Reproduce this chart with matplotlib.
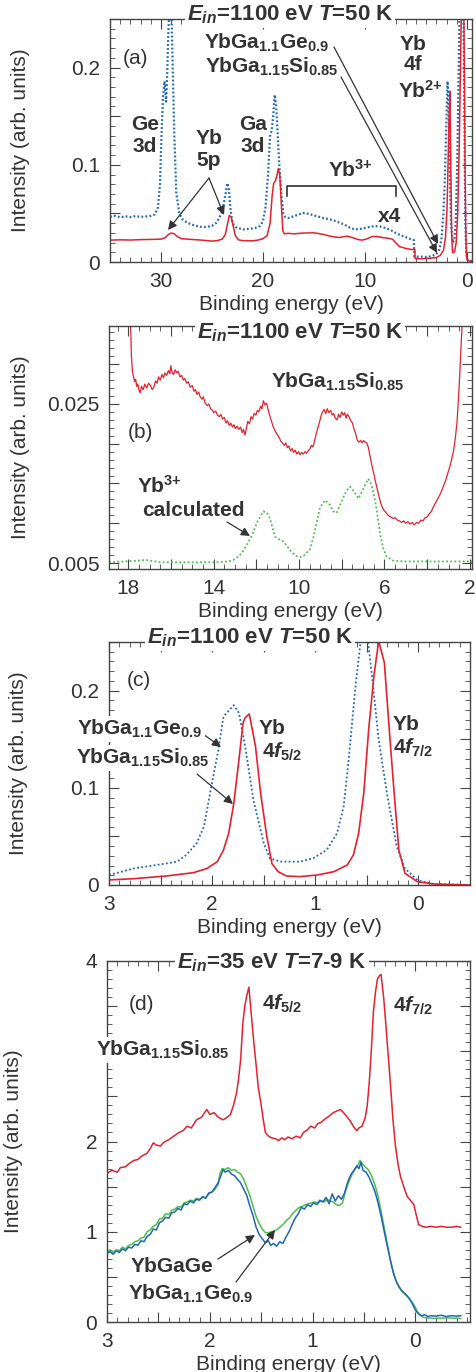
import matplotlib
matplotlib.use("Agg")
import matplotlib.pyplot as plt
from matplotlib.patches import FancyArrowPatch
from matplotlib.ticker import FixedLocator, FixedFormatter, MultipleLocator

# ---------------- data ----------------
# panel (a): YbGa1.15Si0.85 (red) and YbGa1.1Ge0.9 (blue), x4 above ~5 eV
a_red_E = [35.0, 34.0, 33.0, 32.0, 31.0, 30.0, 29.6, 29.3, 29.0, 28.7, 28.4, 28.0, 27.0, 26.0, 25.0,
           24.5, 24.0, 23.7, 23.5, 23.3, 23.1, 22.9, 22.7, 22.4, 22.0, 21.0, 20.5, 20.0, 19.6, 19.3,
           19.1, 18.95, 18.8, 18.65, 18.5, 18.35, 18.2, 18.05, 17.9, 17.5, 17.0, 16.0, 15.0, 14.5,
           14.0, 13.5, 13.0, 12.5, 12.0, 11.7, 11.2, 10.7, 10.3, 9.8, 9.3, 8.8, 8.3, 7.8, 7.3, 7.0,
           6.6, 6.0, 5.4, 5.1, 5.08, 4.5, 4.0, 3.5, 3.0, 2.6, 2.3, 2.1, 1.95, 1.85, 1.75, 1.67,
           1.6, 1.5, 1.42, 1.35, 1.2, 1.05, 0.9, 0.75, 0.6, 0.5, 0.4, 0.32, 0.25, 0.18, 0.12,
           0.06, 0.0, -0.2, -0.5]
a_red_I = [0.0225, 0.0228, 0.0226, 0.0230, 0.0232, 0.0235, 0.0250, 0.0280, 0.0298, 0.0290, 0.0262,
           0.0240, 0.0232, 0.0225, 0.0215, 0.0220, 0.0235, 0.0280, 0.0380, 0.0480, 0.0460, 0.0360,
           0.0270, 0.0228, 0.0220, 0.0218, 0.0225, 0.0240, 0.0270, 0.0400, 0.0680, 0.0810, 0.0830,
           0.0880, 0.0960, 0.0900, 0.0600, 0.0320, 0.0290, 0.0295, 0.0290, 0.0298, 0.0300, 0.0292,
           0.0282, 0.0268, 0.0258, 0.0252, 0.0262, 0.0265, 0.0250, 0.0232, 0.0225, 0.0238, 0.0262,
           0.0262, 0.0252, 0.0245, 0.0235, 0.0200, 0.0158, 0.0140, 0.0128, 0.0128, 0.0035, 0.0033,
           0.0036, 0.0040, 0.0045, 0.0070, 0.0120, 0.0250, 0.0550, 0.1000, 0.1500, 0.1756, 0.1200,
           0.0300, 0.0110, 0.0092, 0.0110, 0.0200, 0.0500, 0.1200, 0.2200, 0.2900, 0.3000, 0.2800,
           0.2000, 0.1000, 0.0400, 0.0100, 0.0030, 0.0010, 0.0008]

a_blue_E = [35.0, 34.5, 34.0, 33.5, 33.0, 32.5, 32.0, 31.5, 31.0, 30.6, 30.3, 30.1, 29.95, 29.8,
            29.65, 29.5, 29.4, 29.3, 29.15, 29.0, 28.85, 28.7, 28.5, 28.2, 27.9, 27.5, 27.0, 26.5,
            26.0, 25.5, 25.0, 24.6, 24.3, 24.0, 23.7, 23.5, 23.35, 23.2, 23.0, 22.7, 22.3, 21.9,
            21.5, 21.0, 20.6, 20.3, 20.0, 19.75, 19.5, 19.3, 19.15, 19.0, 18.85, 18.7, 18.55, 18.4,
            18.2, 18.0, 17.8, 17.5, 17.0, 16.5, 16.0, 15.5, 15.0, 14.5, 14.0, 13.5, 13.0, 12.5,
            12.0, 11.5, 11.0, 10.5, 10.0, 9.5, 9.0, 8.5, 8.0, 7.5, 7.0, 6.5, 6.0, 5.5, 5.2, 5.15,
            4.5, 4.0, 3.5, 3.0, 2.7, 2.5, 2.3, 2.15, 2.0, 1.9, 1.82, 1.7, 1.55, 1.4, 1.25, 1.1,
            0.95, 0.8, 0.7, 0.5, 0.35, 0.25, 0.15, 0.05, -0.1, -0.5]
a_blue_I = [0.0465, 0.0475, 0.0460, 0.0470, 0.0462, 0.0472, 0.0465, 0.0468, 0.0475, 0.0490, 0.0560,
            0.0800, 0.1300, 0.1700, 0.1860, 0.1650, 0.1900, 0.2300, 0.2700, 0.2700, 0.2000, 0.1330,
            0.0710, 0.0500, 0.0440, 0.0410, 0.0385, 0.0370, 0.0360, 0.0362, 0.0372, 0.0400, 0.0450,
            0.0520, 0.0680, 0.0810, 0.0760, 0.0560, 0.0400, 0.0360, 0.0345, 0.0335, 0.0340, 0.0345,
            0.0355, 0.0370, 0.0420, 0.0560, 0.0900, 0.1300, 0.1350, 0.1500, 0.1720, 0.1600, 0.1300,
            0.1000, 0.0700, 0.0500, 0.0460, 0.0452, 0.0470, 0.0490, 0.0505, 0.0495, 0.0480, 0.0465,
            0.0450, 0.0440, 0.0425, 0.0405, 0.0385, 0.0355, 0.0335, 0.0340, 0.0350, 0.0362, 0.0370,
            0.0365, 0.0350, 0.0330, 0.0300, 0.0275, 0.0255, 0.0235, 0.0225, 0.0055, 0.0055, 0.0052,
            0.0058, 0.0080, 0.0130, 0.0230, 0.0500, 0.0900, 0.1500, 0.1860, 0.1700, 0.1000, 0.0400,
            0.0200, 0.0220, 0.0400, 0.1000, 0.2000, 0.2700, 0.3000, 0.2700, 0.1500, 0.0400, 0.0080,
            0.0015, 0.0010]

# panel (b): YbGa1.15Si0.85 measured (red) and Yb3+ calculated (green)
b_red_E = [17.9, 17.85, 17.8, 17.75, 17.7, 17.65, 17.6, 17.55, 17.5, 17.44, 17.38, 17.3, 17.22,
           17.13, 17.05, 16.95, 16.88, 16.8, 16.72, 16.65, 16.58, 16.5, 16.42, 16.35, 16.28, 16.2,
           16.12, 16.05, 16.0, 15.95, 15.88, 15.8, 15.72, 15.65, 15.58, 15.5, 15.42, 15.35, 15.26,
           15.18, 15.1, 15.0, 14.92, 14.85, 14.78, 14.7, 14.63, 14.55, 14.48, 14.4, 14.3, 14.22,
           14.15, 14.05, 14.0, 13.9, 13.82, 13.74, 13.66, 13.58, 13.5, 13.42, 13.35, 13.27, 13.2,
           13.12, 13.05, 12.98, 12.9, 12.82, 12.74, 12.66, 12.6, 12.53, 12.46, 12.4, 12.32, 12.25,
           12.18, 12.1, 12.02, 11.95, 11.88, 11.8, 11.74, 11.67, 11.6, 11.52, 11.45, 11.38, 11.3,
           11.22, 11.15, 11.08, 11.0, 10.92, 10.85, 10.78, 10.7, 10.62, 10.55, 10.48, 10.4, 10.32,
           10.25, 10.18, 10.1, 10.02, 9.95, 9.88, 9.8, 9.72, 9.65, 9.58, 9.5, 9.42, 9.35, 9.28,
           9.2, 9.12, 9.05, 8.98, 8.9, 8.82, 8.75, 8.68, 8.6, 8.52, 8.45, 8.38, 8.3, 8.22, 8.15,
           8.08, 8.0, 7.93, 7.86, 7.8, 7.74, 7.66, 7.58, 7.5, 7.42, 7.35, 7.28, 7.2, 7.12, 7.05,
           6.98, 6.9, 6.83, 6.76, 6.7, 6.62, 6.55, 6.48, 6.4, 6.32, 6.25, 6.18, 6.1, 6.02, 5.94,
           5.86, 5.78, 5.7, 5.6, 5.5, 5.4, 5.3, 5.2, 5.1, 5.0, 4.9, 4.8, 4.7, 4.6, 4.5, 4.4, 4.3,
           4.2, 4.1, 4.0, 3.9, 3.8, 3.72, 3.62, 3.52, 3.42, 3.32, 3.22, 3.12, 3.02, 2.92, 2.84,
           2.76, 2.68, 2.6, 2.53, 2.46, 2.4, 2.34]
b_red_I = [0.0360, 0.0310, 0.0290, 0.0284, 0.0278, 0.0281, 0.0272, 0.0275, 0.0268, 0.0264, 0.0272,
           0.0268, 0.0275, 0.0270, 0.0276, 0.0273, 0.0268, 0.0271, 0.0279, 0.0276, 0.0284, 0.0280,
           0.0287, 0.0283, 0.0289, 0.0286, 0.0292, 0.0288, 0.0298, 0.0290, 0.0287, 0.0293, 0.0289,
           0.0291, 0.0284, 0.0286, 0.0280, 0.0282, 0.0276, 0.0278, 0.0271, 0.0273, 0.0266, 0.0268,
           0.0262, 0.0265, 0.0259, 0.0256, 0.0259, 0.0251, 0.0248, 0.0250, 0.0244, 0.0242, 0.0239,
           0.0241, 0.0236, 0.0234, 0.0237, 0.0231, 0.0233, 0.0226, 0.0229, 0.0223, 0.0226, 0.0221,
           0.0224, 0.0219, 0.0222, 0.0218, 0.0221, 0.0214, 0.0218, 0.0211, 0.0220, 0.0228, 0.0225,
           0.0234, 0.0231, 0.0238, 0.0236, 0.0242, 0.0240, 0.0247, 0.0244, 0.0254, 0.0249, 0.0251,
           0.0243, 0.0236, 0.0229, 0.0222, 0.0218, 0.0214, 0.0211, 0.0207, 0.0203, 0.0201, 0.0198,
           0.0201, 0.0195, 0.0197, 0.0191, 0.0194, 0.0189, 0.0192, 0.0187, 0.0190, 0.0186, 0.0189,
           0.0187, 0.0190, 0.0188, 0.0191, 0.0193, 0.0198, 0.0196, 0.0203, 0.0212, 0.0220, 0.0226,
           0.0234, 0.0240, 0.0243, 0.0238, 0.0244, 0.0239, 0.0242, 0.0236, 0.0238, 0.0232, 0.0230,
           0.0237, 0.0233, 0.0240, 0.0236, 0.0239, 0.0232, 0.0237, 0.0234, 0.0229, 0.0226, 0.0218,
           0.0213, 0.0205, 0.0202, 0.0204, 0.0201, 0.0204, 0.0202, 0.0201, 0.0196, 0.0188, 0.0178,
           0.0168, 0.0160, 0.0150, 0.0141, 0.0133, 0.0126, 0.0120, 0.0116, 0.0114, 0.0111, 0.0109,
           0.0108, 0.0106, 0.0107, 0.0104, 0.0103, 0.0101, 0.0103, 0.0100, 0.0102, 0.0099, 0.0101,
           0.0098, 0.0101, 0.0100, 0.0104, 0.0103, 0.0107, 0.0108, 0.0112, 0.0115, 0.0120, 0.0125,
           0.0130, 0.0135, 0.0141, 0.0148, 0.0155, 0.0164, 0.0173, 0.0182, 0.0192, 0.0207, 0.0228,
           0.0258, 0.0295, 0.0330, 0.0360]
b_calc_E = [18.9, 17.5, 17.2, 16.5, 15.0, 14.0, 13.3, 13.07, 12.8, 12.6, 12.4, 12.2, 11.95, 11.67,
            11.5, 11.36, 11.2, 11.12, 10.95, 10.73, 10.55, 10.42, 10.2, 9.98, 9.75, 9.49, 9.3, 9.1,
            9.02, 8.78, 8.55, 8.4, 8.24, 8.0, 7.8, 7.61, 7.4, 7.22, 7.0, 6.76, 6.6, 6.44, 6.3, 6.21,
            6.05, 5.9, 5.59, 5.0, 4.0, 3.0, 1.9]
b_calc_I = [0.0051, 0.0053, 0.0054, 0.0051, 0.0051, 0.0051, 0.0052, 0.0054, 0.0059, 0.0066, 0.0075,
            0.0085, 0.0102, 0.0115, 0.0113, 0.0106, 0.0090, 0.0083, 0.0080, 0.0077, 0.0071, 0.0066,
            0.0060, 0.0057, 0.0060, 0.0067, 0.0085, 0.0110, 0.0120, 0.0129, 0.0123, 0.0115, 0.0113,
            0.0128, 0.0140, 0.0146, 0.0139, 0.0131, 0.0143, 0.0156, 0.0148, 0.0129, 0.0105, 0.0087,
            0.0068, 0.0058, 0.0053, 0.0052, 0.0052, 0.0052, 0.0052]

# panel (c): Yb 4f region, hard x-ray
c_red_E = [3.0, 2.76, 2.44, 2.18, 2.05, 1.95, 1.89, 1.84, 1.79, 1.74, 1.70, 1.68, 1.64, 1.58, 1.53,
           1.47, 1.42, 1.36, 1.28, 1.15, 0.98, 0.82, 0.69, 0.63, 0.58, 0.53, 0.48, 0.43, 0.385,
           0.33, 0.29, 0.24, 0.19, 0.13, 0.01, -0.15, -0.5]
c_red_I = [0.0052, 0.0065, 0.0093, 0.0127, 0.0170, 0.0240, 0.0360, 0.0530, 0.0840, 0.1290, 0.1670,
           0.1720, 0.1760, 0.1430, 0.0945, 0.0500, 0.0220, 0.0137, 0.0093, 0.0086, 0.0103, 0.0137,
           0.0206, 0.0310, 0.0530, 0.0945, 0.1630, 0.2165, 0.2510, 0.2285, 0.1700, 0.1010, 0.0360,
           0.0120, 0.0034, 0.0010, 0.0000]
c_blue_E = [3.0, 2.76, 2.6, 2.34, 2.25, 2.15, 2.08, 2.02, 1.94, 1.89, 1.79, 1.74, 1.68, 1.60, 1.50,
            1.44, 1.34, 1.15, 1.02, 0.89, 0.79, 0.725, 0.68, 0.61, 0.55, 0.50, 0.45, 0.385, 0.30,
            0.21, 0.13, 0.01, -0.15, -0.5]
c_blue_I = [0.0103, 0.0170, 0.0196, 0.0240, 0.0310, 0.0430, 0.0600, 0.0945, 0.1390, 0.1735, 0.1850,
            0.1770, 0.1426, 0.0876, 0.0430, 0.0275, 0.0240, 0.0240, 0.0275, 0.0360, 0.0530, 0.0808,
            0.1250, 0.2045, 0.2600, 0.2600, 0.2150, 0.1490, 0.0910, 0.0395, 0.0170, 0.0050, 0.0010,
            0.0000]

# panel (d): soft x-ray (35 eV)
d_red_E = [3.0, 2.95, 2.9, 2.87, 2.82, 2.78, 2.74, 2.7, 2.66, 2.61, 2.58, 2.55, 2.52, 2.48, 2.45,
           2.4, 2.35, 2.3, 2.26, 2.22, 2.18, 2.13, 2.08, 2.03, 2.0, 1.96, 1.92, 1.87, 1.83, 1.80,
           1.77, 1.74, 1.72, 1.70, 1.68, 1.66, 1.64, 1.62, 1.60, 1.575, 1.55, 1.53, 1.5, 1.48,
           1.46, 1.43, 1.4, 1.36, 1.33, 1.3, 1.27, 1.24, 1.2, 1.16, 1.12, 1.09, 1.05, 1.02, 0.98,
           0.95, 0.92, 0.88, 0.84, 0.80, 0.76, 0.73, 0.70, 0.67, 0.63, 0.60, 0.57, 0.55, 0.52,
           0.49, 0.47, 0.45, 0.43, 0.41, 0.39, 0.37, 0.35, 0.335, 0.31, 0.29, 0.265, 0.24, 0.22,
           0.195, 0.17, 0.146, 0.12, 0.10, 0.08, 0.05, 0.03, 0.016, 0.0, -0.03, -0.065, -0.1,
           -0.15, -0.2, -0.25, -0.3, -0.35, -0.4, -0.44]
d_red_I = [1.65, 1.68, 1.66, 1.71, 1.72, 1.76, 1.79, 1.80, 1.84, 1.87, 1.92, 1.985, 1.96, 1.95, 1.99,
           2.02, 2.06, 2.10, 2.12, 2.17, 2.15, 2.24, 2.27, 2.355, 2.30, 2.32, 2.27, 2.24, 2.27, 2.30,
           2.40, 2.54, 2.70, 2.91, 3.30, 3.50, 3.62, 3.71, 3.45, 3.13, 2.85, 2.61, 2.40, 2.24, 2.10,
           2.06, 2.04, 2.03, 2.01, 2.04, 2.02, 2.05, 2.03, 2.06, 2.04, 2.10, 2.13, 2.17, 2.15, 2.20,
           2.21, 2.25, 2.28, 2.32, 2.34, 2.355, 2.32, 2.28, 2.22, 2.16, 2.12, 2.15, 2.17, 2.26, 2.39,
           2.65, 3.00, 3.43, 3.65, 3.80, 3.84, 3.85, 3.60, 3.32, 2.95, 2.58, 2.25, 1.95, 1.75, 1.61,
           1.52, 1.45, 1.39, 1.35, 1.32, 1.30, 1.22, 1.08, 1.06, 1.05, 1.06, 1.05, 1.06, 1.05, 1.05,
           1.06, 1.05]
d_blue_E = [3.0, 2.97, 2.94, 2.91, 2.88, 2.85, 2.82, 2.79, 2.76, 2.73, 2.70, 2.67, 2.64, 2.61, 2.58,
            2.55, 2.52, 2.49, 2.46, 2.43, 2.40, 2.37, 2.34, 2.31, 2.28, 2.25, 2.22, 2.19, 2.16, 2.13,
            2.10, 2.07, 2.04, 2.01, 1.98, 1.95, 1.92, 1.89, 1.87, 1.85, 1.82, 1.79, 1.76, 1.73, 1.70,
            1.67, 1.64, 1.61, 1.58, 1.55, 1.52, 1.49, 1.46, 1.43, 1.41, 1.38, 1.35, 1.32, 1.29, 1.26,
            1.23, 1.20, 1.17, 1.14, 1.11, 1.08, 1.05, 1.02, 0.99, 0.96, 0.93, 0.90, 0.87, 0.84, 0.81,
            0.78, 0.75, 0.72, 0.69, 0.66, 0.63, 0.60, 0.57, 0.55, 0.53, 0.51, 0.48, 0.45, 0.42, 0.39,
            0.36, 0.33, 0.30, 0.27, 0.24, 0.21, 0.18, 0.15, 0.12, 0.09, 0.06, 0.03, 0.0, -0.03, -0.06,
            -0.09, -0.12, -0.15, -0.2, -0.25, -0.3, -0.35, -0.4, -0.44]
d_blue_I = [0.76, 0.78, 0.75, 0.79, 0.77, 0.81, 0.79, 0.83, 0.82, 0.86, 0.85, 0.90, 0.89, 0.95, 0.97,
            1.03, 1.02, 1.10, 1.12, 1.16, 1.15, 1.21, 1.22, 1.26, 1.24, 1.31, 1.30, 1.34, 1.32, 1.36,
            1.35, 1.39, 1.37, 1.43, 1.44, 1.49, 1.54, 1.63, 1.69, 1.66, 1.68, 1.64, 1.62, 1.58, 1.54,
            1.47, 1.40, 1.28, 1.18, 1.05, 0.97, 0.92, 0.88, 0.90, 0.85, 0.87, 0.84, 0.89, 0.87, 0.94,
            1.00, 1.08, 1.15, 1.20, 1.27, 1.25, 1.30, 1.28, 1.32, 1.30, 1.35, 1.33, 1.38, 1.31, 1.42,
            1.34, 1.40, 1.36, 1.43, 1.55, 1.63, 1.68, 1.73, 1.70, 1.77, 1.68, 1.66, 1.60, 1.52, 1.43,
            1.30, 1.15, 0.98, 0.82, 0.66, 0.52, 0.43, 0.37, 0.33, 0.30, 0.26, 0.20, 0.13, 0.09, 0.07,
            0.08, 0.06, 0.07, 0.065, 0.075, 0.06, 0.07, 0.065, 0.07]
d_green_E = [3.0, 2.97, 2.94, 2.91, 2.88, 2.85, 2.82, 2.79, 2.76, 2.73, 2.70, 2.67, 2.64, 2.61, 2.58,
             2.55, 2.52, 2.49, 2.46, 2.43, 2.40, 2.37, 2.34, 2.31, 2.28, 2.25, 2.22, 2.19, 2.16, 2.13,
             2.10, 2.07, 2.04, 2.01, 1.98, 1.95, 1.92, 1.90, 1.88, 1.85, 1.82, 1.79, 1.76, 1.73, 1.70,
             1.67, 1.64, 1.61, 1.58, 1.55, 1.52, 1.49, 1.46, 1.43, 1.40, 1.37, 1.34, 1.31, 1.28, 1.25,
             1.22, 1.19, 1.16, 1.13, 1.10, 1.07, 1.04, 1.01, 0.98, 0.95, 0.92, 0.89, 0.86, 0.83, 0.80,
             0.77, 0.74, 0.71, 0.68, 0.65, 0.62, 0.59, 0.56, 0.54, 0.52, 0.49, 0.46, 0.43, 0.40, 0.37,
             0.34, 0.31, 0.28, 0.25, 0.22, 0.19, 0.16, 0.13, 0.10, 0.07, 0.04, 0.01, -0.02, -0.05,
             -0.08, -0.12, -0.2, -0.3, -0.44]
d_green_I = [0.78, 0.80, 0.77, 0.80, 0.79, 0.83, 0.81, 0.85, 0.86, 0.89, 0.90, 0.93, 0.94, 1.00, 1.02,
             1.06, 1.08, 1.14, 1.15, 1.20, 1.19, 1.24, 1.25, 1.28, 1.27, 1.32, 1.33, 1.35, 1.34, 1.37,
             1.36, 1.38, 1.38, 1.42, 1.44, 1.47, 1.52, 1.65, 1.70, 1.69, 1.71, 1.68, 1.69, 1.66, 1.64,
             1.58, 1.49, 1.40, 1.28, 1.17, 1.09, 1.03, 0.99, 0.99, 1.00, 1.01, 1.03, 1.06, 1.09, 1.13,
             1.16, 1.21, 1.24, 1.27, 1.28, 1.30, 1.31, 1.32, 1.33, 1.32, 1.34, 1.33, 1.36, 1.34, 1.33,
             1.30, 1.29, 1.32, 1.45, 1.55, 1.63, 1.69, 1.74, 1.79, 1.76, 1.72, 1.69, 1.63, 1.54, 1.42,
             1.26, 1.08, 0.90, 0.72, 0.57, 0.46, 0.39, 0.34, 0.31, 0.27, 0.23, 0.18, 0.11, 0.07, 0.05,
             0.045, 0.04, 0.045, 0.04]

# tick values / labels
a_xticks = [30, 20, 10, 0]
a_yticks = [0, 0.05, 0.1, 0.15, 0.2, 0.25]
a_yticklabels = ['0', '', '0.1', '', '0.2', '']
b_xticks = [18, 16, 14, 12, 10, 8, 6, 4, 2]
b_xticklabels = ['18', '', '14', '', '10', '', '6', '', '2']
b_yticks = [0.005, 0.010, 0.015, 0.020, 0.025, 0.030, 0.035]
b_yticklabels = ['0.005', '', '', '', '0.025', '', '']
cd_xticks = [3, 2.5, 2, 1.5, 1, 0.5, 0]
cd_xticklabels = ['3', '', '2', '', '1', '', '0']
d_yticks = [0, 0.5, 1, 1.5, 2, 2.5, 3, 3.5, 4]
d_yticklabels = ['0', '', '1', '', '2', '', '', '', '4']

# ---------------- style ----------------
TXT = '#333333'
RED = '#e3222e'
BLUE = '#1f66b8'
GREEN = '#4cbf4c'
plt.rcParams.update({
    'font.family': ['Liberation Sans', 'DejaVu Sans'],
    'font.size': 15,
    'mathtext.fontset': 'custom',
    'mathtext.rm': 'Liberation Sans:bold',
    'mathtext.it': 'Liberation Sans:italic:bold',
    'mathtext.bf': 'Liberation Sans:bold',
    'text.color': TXT,
    'axes.edgecolor': '#444444',
    'axes.linewidth': 1.0,
    'axes.labelcolor': TXT,
    'xtick.color': '#444444',
    'ytick.color': '#444444',
    'xtick.labelcolor': TXT,
    'ytick.labelcolor': TXT,
    'xtick.direction': 'in',
    'ytick.direction': 'in',
    'xtick.top': True,
    'ytick.right': True,
    'xtick.major.size': 7,
    'ytick.major.size': 7,
    'xtick.minor.size': 3.5,
    'ytick.minor.size': 3.5,
    'xtick.major.pad': 7,
    'ytick.major.pad': 7,
    'xtick.labelsize': 15,
    'ytick.labelsize': 15,
})

W, H = 476, 1372
fig = plt.figure(figsize=(W / 100, H / 100), dpi=100)


def rect(l, t, r, b):
    return [l / W, 1 - b / H, (r - l) / W, (b - t) / H]


def fp(x, y):
    return (x / W, 1 - y / H)


def ftext(x, y, s, **kw):
    kw.setdefault('fontweight', 'bold')
    kw.setdefault('ha', 'center')
    kw.setdefault('va', 'center')
    return fig.text(*fp(x, y), s, **kw)


def arrow(x0, y0, x1, y1):
    fig.add_artist(FancyArrowPatch(
        fp(x0, y0), fp(x1, y1), transform=fig.transFigure, arrowstyle='-|>',
        mutation_scale=13, color='#333333', lw=0.9, shrinkA=0, shrinkB=0))


WB = dict(facecolor='white', edgecolor='none', pad=1.5)


def setup(ax, xlim, ylim, xt, xtl, xminor, yt, ytl, yminor, ylab_x):
    ax.set_xlim(*xlim)
    ax.set_ylim(*ylim)
    ax.xaxis.set_major_locator(FixedLocator(xt))
    ax.xaxis.set_major_formatter(FixedFormatter(xtl))
    ax.xaxis.set_minor_locator(MultipleLocator(xminor))
    ax.yaxis.set_major_locator(FixedLocator(yt))
    ax.yaxis.set_major_formatter(FixedFormatter(ytl))
    ax.yaxis.set_minor_locator(MultipleLocator(yminor))
    ax.tick_params(which='both', top=True, right=True)
    ax.set_xlabel('Binding energy (eV)', labelpad=3)
    ax.set_ylabel('Intensity (arb. units)')
    ax.yaxis.set_label_coords(ylab_x, 0.5)


title1100 = r'$E_{in}$=1100 eV $T$=50 K'
TS = 16

# ---------------- panel (a) ----------------
axa = fig.add_axes(rect(110, 19, 472, 262))
axa.plot(a_blue_E, a_blue_I, color=BLUE, lw=1.6, ls=(0, (0.8, 1.0)))
axa.plot(a_red_E, a_red_I, color=RED, lw=1.1)
setup(axa, (35, -0.5), (0, 0.25), a_xticks, [str(v) for v in a_xticks], 1,
      a_yticks, a_yticklabels, 0.01, -0.221)
axa.plot([17.6, 17.6, 7.0, 7.0], [0.068, 0.0785, 0.0785, 0.068], color='#333333', lw=1.2)
ftext(290, 15, title1100, bbox=WB, fontsize=TS)
ftext(135, 58, '(a)', fontweight='normal')
ftext(267, 43, r'YbGa$_{1.1}$Ge$_{0.9}$')
ftext(272, 67, r'YbGa$_{1.15}$Si$_{0.85}$')
arrow(334, 47, 438, 244)
arrow(341, 77, 437, 253)
ftext(413, 44, 'Yb')
ftext(413, 65, '4f')
ftext(420, 91, r'Yb$^{3{+}}$'.replace('3', '2'))
ftext(145, 125, 'Ge')
ftext(145, 147, '3d')
ftext(209, 139, 'Yb')
ftext(209, 161, '5p')
arrow(209, 178, 168, 230)
arrow(209, 178, 224, 215)
ftext(253, 125, 'Ga')
ftext(253, 147, '3d')
ftext(350, 170, r'Yb$^{3{+}}$')
ftext(389, 217, 'x4')

# ---------------- panel (b) ----------------
axb = fig.add_axes(rect(109, 326, 472, 569))
axb.plot(b_calc_E, b_calc_I, color=GREEN, lw=1.3, ls=(0, (1, 1.3)))
axb.plot(b_red_E, b_red_I, color=RED, lw=0.9)
setup(axb, (18.9, 1.9), (0.00425, 0.0348), b_xticks, b_xticklabels, 0.5,
      b_yticks, b_yticklabels, 0.001, -0.218)
ftext(300, 333, title1100, bbox=WB, fontsize=TS)
ftext(338, 382, r'YbGa$_{1.15}$Si$_{0.85}$')
ftext(140, 433, '(b)', fontweight='normal')
ftext(159, 486, r'Yb$^{3{+}}$')
ftext(193, 510, 'calculated')
arrow(227, 522, 250, 536)

# ---------------- panel (c) ----------------
axc = fig.add_axes(rect(109, 642, 470, 885))
axc.plot(c_blue_E, c_blue_I, color=BLUE, lw=1.3, ls=(0, (1, 1.3)))
axc.plot(c_red_E, c_red_I, color=RED, lw=1.2)
setup(axc, (3, -0.5), (0, 0.25), cd_xticks, cd_xticklabels, 0.1,
      a_yticks, a_yticklabels, 0.01, -0.224)
ftext(250, 638, title1100, bbox=WB, fontsize=TS)
ftext(139, 680, '(c)', fontweight='normal')
ftext(140, 729, r'YbGa$_{1.1}$Ge$_{0.9}$', bbox=WB)
ftext(143, 758, r'YbGa$_{1.15}$Si$_{0.85}$', bbox=WB)
arrow(203, 734, 221, 747)
arrow(197, 774, 233, 804)
ftext(272, 729, 'Yb')
ftext(282, 752, r'4$f_{5/2}$')
ftext(406, 724, 'Yb')
ftext(413, 748, r'4$f_{7/2}$')

# ---------------- panel (d) ----------------
axd = fig.add_axes(rect(107, 961, 470, 1322))
axd.plot(d_green_E, d_green_I, color=GREEN, lw=1.1)
axd.plot(d_blue_E, d_blue_I, color=BLUE, lw=1.1)
axd.plot(d_red_E, d_red_I, color=RED, lw=1.1)
setup(axd, (3, -0.53), (0, 4), cd_xticks, cd_xticklabels, 0.1,
      d_yticks, d_yticklabels, 0.1, -0.231)
ftext(272, 963, r'$E_{in}$=35 eV $T$=7-9 K', bbox=WB, fontsize=TS)
ftext(142, 1005, '(d)', fontweight='normal')
ftext(282, 1004, r'4$f_{5/2}$')
ftext(413, 1006, r'4$f_{7/2}$')
ftext(163, 1050, r'YbGa$_{1.15}$Si$_{0.85}$', bbox=WB)
ftext(172, 1266, 'YbGaGe')
ftext(191, 1294, r'YbGa$_{1.1}$Ge$_{0.9}$')
arrow(218, 1259, 255, 1235)
arrow(236, 1282, 275, 1230)

fig.savefig('out.png', dpi=100)
